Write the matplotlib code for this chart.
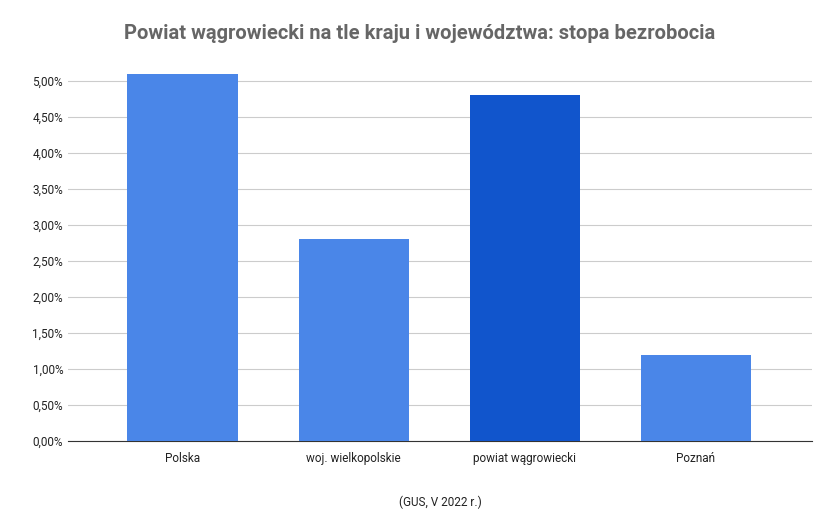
import matplotlib as mpl
mpl.use('Agg')
import matplotlib.pyplot as plt
from matplotlib.ticker import FuncFormatter, MultipleLocator

categories = ['Polska', 'woj. wielkopolskie', 'powiat wągrowiecki', 'Poznań']
values = [5.1, 2.8, 4.8, 1.2]
colors = ['#4a86e8', '#4a86e8', '#1155cc', '#4a86e8']

plt.rcParams['font.family'] = ['Roboto', 'DejaVu Sans']

fig = plt.figure(figsize=(8.4, 5.2), dpi=100)
ax = fig.add_axes([0.081, 0.152, 0.886, 0.706])
ax.bar(range(len(categories)), values, width=0.645, color=colors, zorder=3)
ax.set_xlim(-0.67, 3.68)
ax.set_ylim(0, 5.1)
ax.yaxis.set_major_locator(MultipleLocator(0.5))
ax.yaxis.set_major_formatter(FuncFormatter(lambda v, p: f'{v:.2f}%'.replace('.', ',')))
ax.grid(axis='y', color='#cccccc', linewidth=0.8, zorder=0)
for s in ['top', 'right', 'left']:
    ax.spines[s].set_visible(False)
ax.spines['bottom'].set_color('#333333')
ax.tick_params(axis='both', length=0, labelsize=8.5, colors='#222222')
ax.tick_params(axis='x', pad=8)
ax.set_xticks(range(len(categories)))
ax.set_xticklabels(categories)
ax.set_xlabel('(GUS, V 2022 r.)', fontsize=8.5, color='#222222', labelpad=22)
fig.text(0.5, 0.925, 'Powiat wągrowiecki na tle kraju i województwa: stopa bezrobocia',
         ha='center', fontsize=14.5, fontweight='bold', color='#666666')
fig.savefig('out.png')
